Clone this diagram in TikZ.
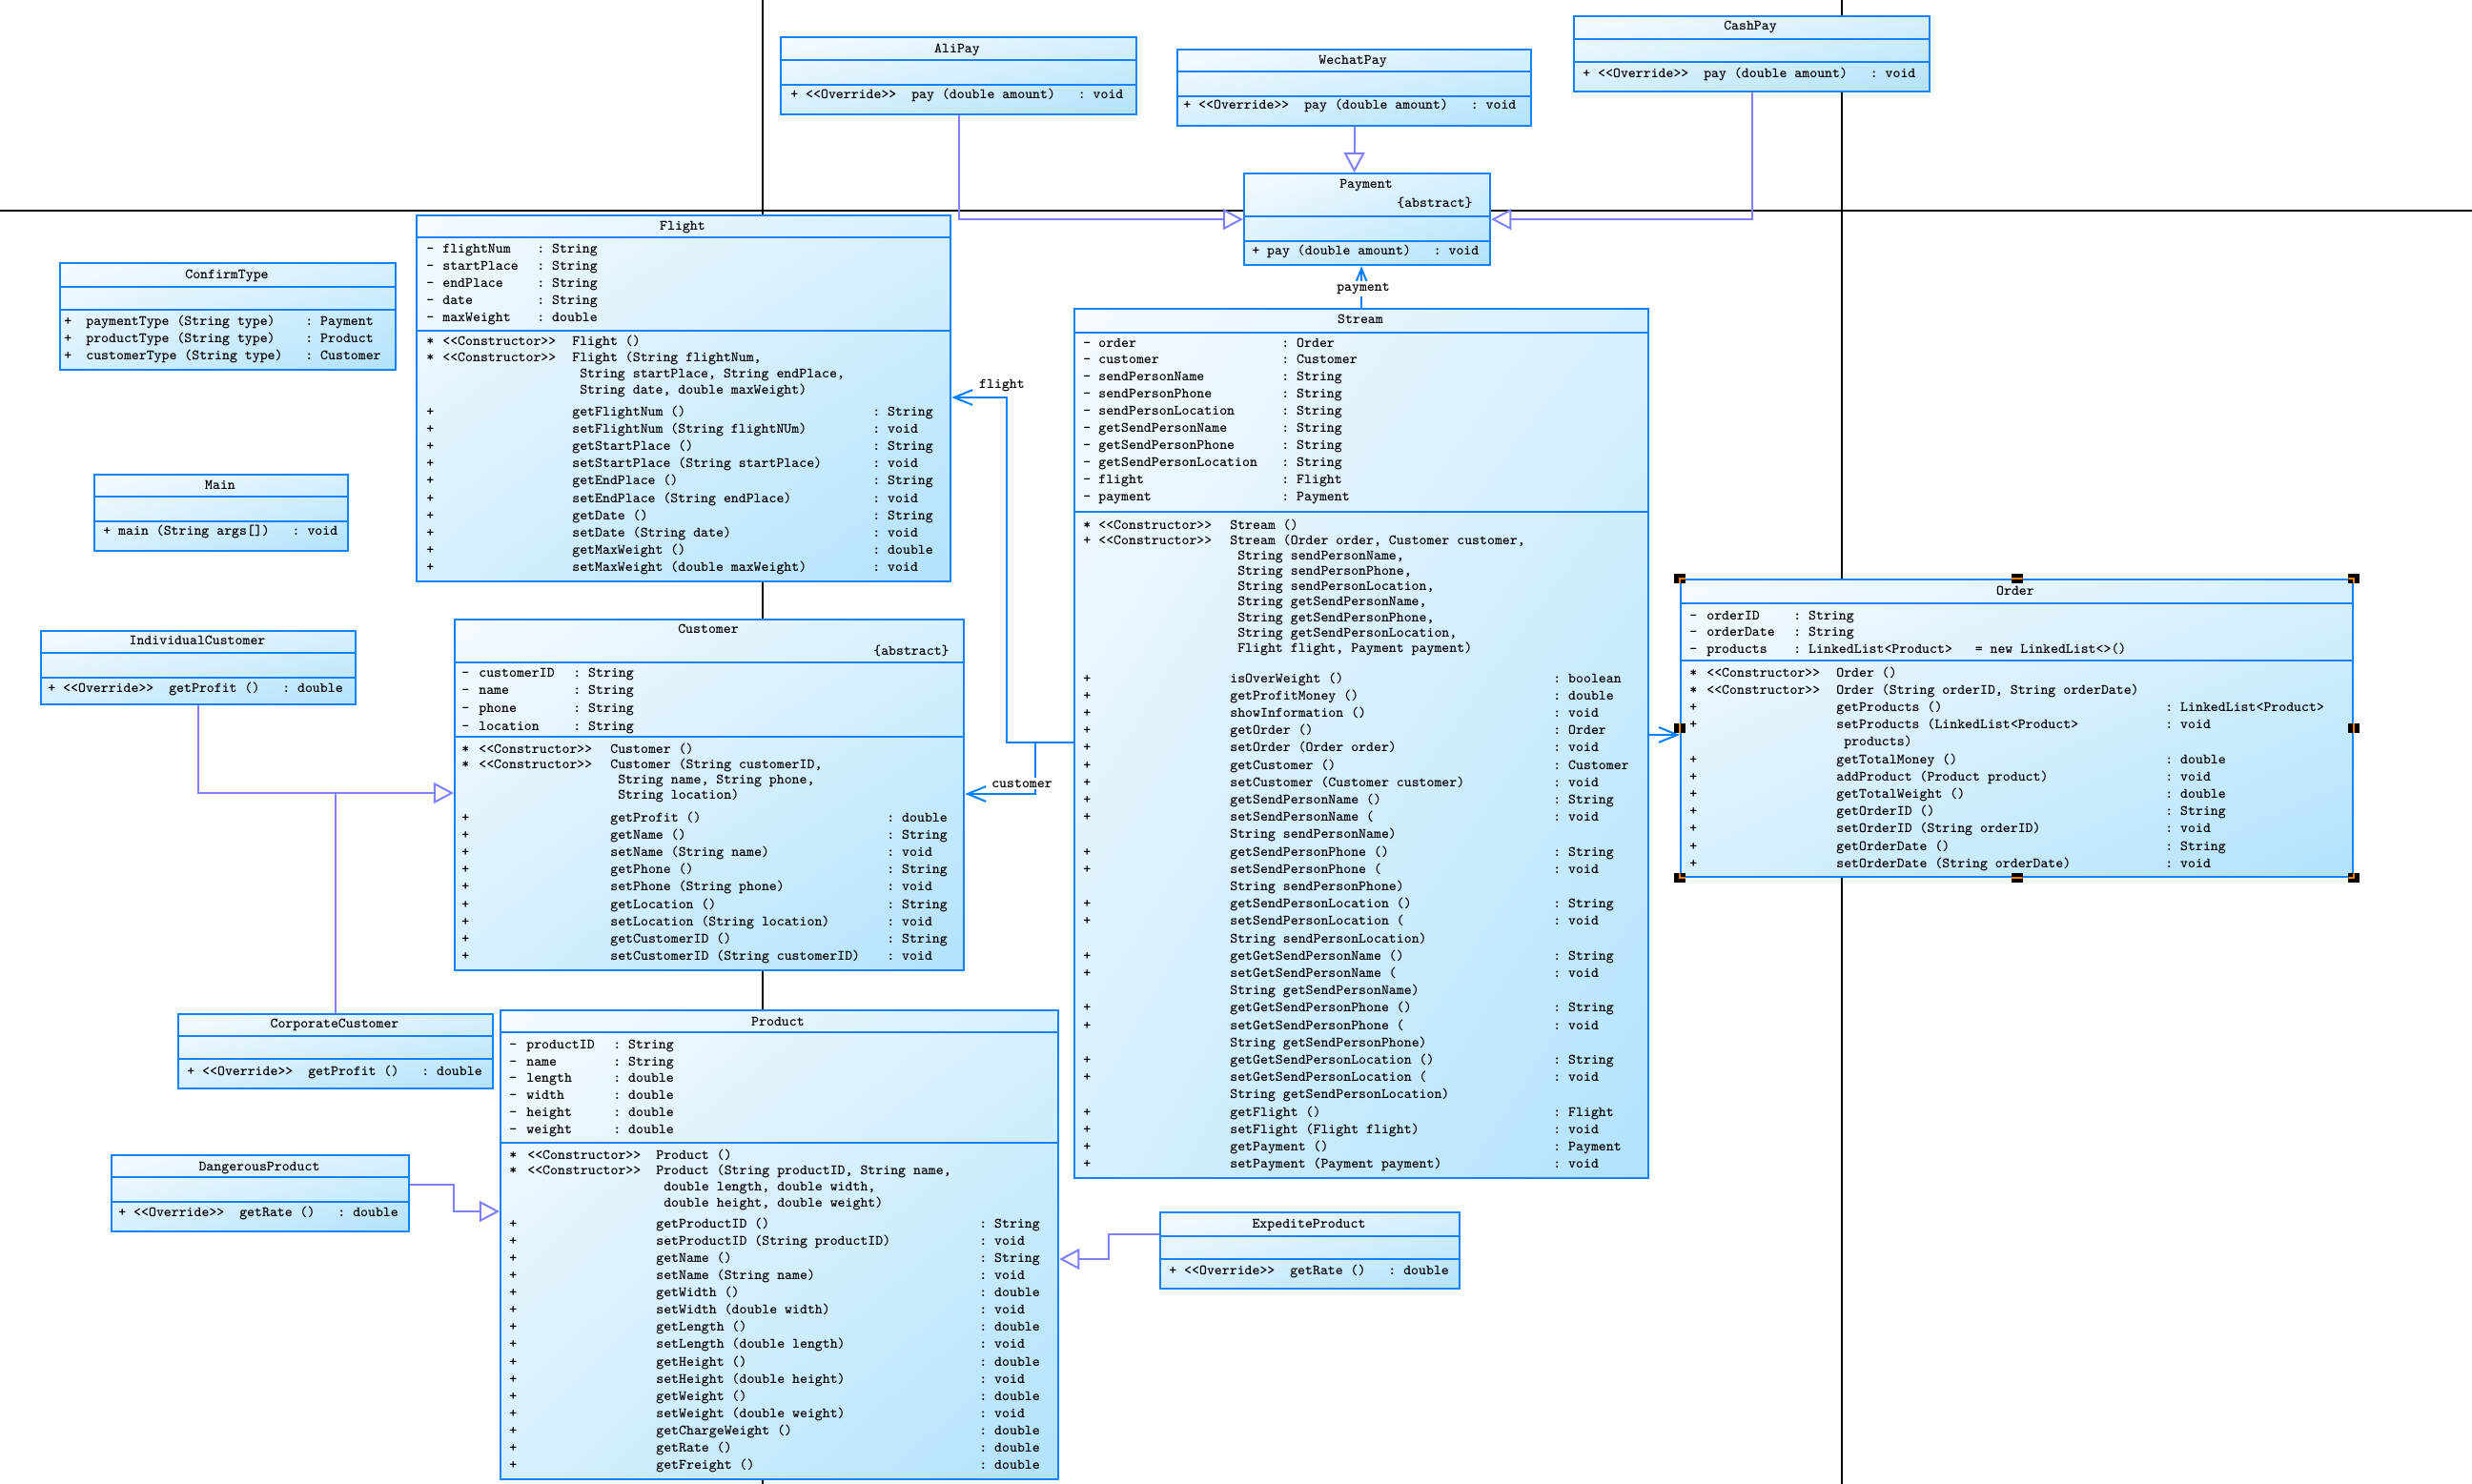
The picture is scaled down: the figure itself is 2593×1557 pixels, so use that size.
\documentclass[tikz,border=0pt]{standalone}
\usetikzlibrary{arrows.meta,shadings}

\definecolor{umlblue}{RGB}{20,130,255}
\definecolor{genline}{RGB}{128,128,255}
\definecolor{assocline}{RGB}{0,128,255}
\definecolor{shadeA}{RGB}{246,251,255}
\definecolor{shadeB}{RGB}{214,240,253}
\definecolor{shadeC}{RGB}{178,226,252}
\definecolor{handleor}{RGB}{255,128,0}

\newcommand\umlfont[1]{\fontsize{8.6pt}{#1}\selectfont\ttfamily\bfseries\frenchspacing\fontdimen3\font=0pt\fontdimen4\font=0pt\relax}
\newcommand\tstrut{\rule{0pt}{7.2pt}}
\newcommand\stt[1]{\mbox{<}\mbox{<}#1\mbox{>}\mbox{>}}
\newcommand\ind{\hspace*{4.515pt}}

\begin{document}
\begin{tikzpicture}[x=0.02cm,y=-0.02cm,
  umlbox/.style 2 args={draw=umlblue,line width=0.045cm,upper left=shadeA,upper right=shadeB,lower left=shadeB,lower right=shadeC,anchor=north west,inner sep=0pt,minimum width=#1*0.02cm,minimum height=#2*0.02cm},
  sepline/.style={draw=umlblue,line width=0.045cm},
  umltxt/.style={anchor=north west,inner sep=0pt,align=left,font=\umlfont{10.24pt}},
  lsk/.style={font=\umlfont{#1}},
  umlttl/.style={anchor=base,inner sep=0pt,font=\umlfont{10.24pt}},
  umllbl/.style={fill=white,inner sep=1pt,font=\umlfont{10.24pt}},
  gen/.style={draw=genline,line width=0.04cm,-{Triangle[open,length=12pt,width=12.5pt]}},
  genl/.style={draw=genline,line width=0.04cm},
  assoc/.style={draw=assocline,line width=0.04cm,-{Straight Barb[length=11pt,width=9pt]}},
  pgline/.style={draw=black,line width=0.045cm}]
\useasboundingbox (0,0) rectangle (2593,1557);

% page breaks
\draw[pgline] (0,221) -- (2593,221);
\draw[pgline] (800,0) -- (800,1557);
\draw[pgline] (1932,0) -- (1932,1557);

% AliPay
\node[umlbox={373}{81}] (c_alipay) at (818,38) {};
\foreach \y in {63,89} \draw[sepline] (c_alipay.west |- 0,\y) -- (c_alipay.east |- 0,\y);
\node[umlttl] (alipay_t) at (1004,56) {AliPay};
\node[umltxt] (alipay_o) at (829,91) {\tstrut+~\stt{Override}~~pay (double amount)~~~:~void};

% WechatPay
\node[umlbox={371}{80}] (c_wechat) at (1234,51) {};
\foreach \y in {75,101} \draw[sepline] (c_wechat.west |- 0,\y) -- (c_wechat.east |- 0,\y);
\node[umlttl] (wechat_t) at (1419,68) {WechatPay};
\node[umltxt] (wechat_o) at (1241,102) {\tstrut+~\stt{Override}~~pay (double amount)~~~:~void};

% CashPay
\node[umlbox={373}{79}] (c_cashpay) at (1650,16) {};
\foreach \y in {41,65} \draw[sepline] (c_cashpay.west |- 0,\y) -- (c_cashpay.east |- 0,\y);
\node[umlttl] (cashpay_t) at (1836,32) {CashPay};
\node[umltxt] (cashpay_o) at (1660,69) {\tstrut+~\stt{Override}~~pay (double amount)~~~:~void};

% Payment
\node[umlbox={258}{96}] (c_payment) at (1304,181) {};
\foreach \y in {227,253} \draw[sepline] (c_payment.west |- 0,\y) -- (c_payment.east |- 0,\y);
\node[umlttl] (payment_t) at (1433,198) {Payment};
\node[umlttl,anchor=base east] (payment_abs) at (1545,218) {\{abstract\}};
\node[umltxt] (payment_o) at (1313,255) {\tstrut+~pay (double amount)~~~:~void};

% ConfirmType
\node[umlbox={352}{112}] (c_confirm) at (62,275) {};
\foreach \y in {301,325} \draw[sepline] (c_confirm.west |- 0,\y) -- (c_confirm.east |- 0,\y);
\node[umlttl] (confirm_t) at (238,293) {ConfirmType};
\node[umltxt] (confirm_ov) at (67,329) {\tstrut+\\+\\+};
\node[umltxt] (confirm_on) at (90,329) {\tstrut paymentType (String type)\\productType (String type)\\customerType (String type)};
\node[umltxt] (confirm_ot) at (320,329) {\tstrut:~Payment\\:~Product\\:~Customer};

% Main
\node[umlbox={266}{80}] (c_main) at (98,497) {};
\foreach \y in {521,547} \draw[sepline] (c_main.west |- 0,\y) -- (c_main.east |- 0,\y);
\node[umlttl] (main_t) at (231,514) {Main};
\node[umltxt] (main_o) at (108,548) {\tstrut+~main (String args[])~~~:~void};

% Flight
\node[umlbox={560}{384}] (c_flight) at (436,225) {};
\foreach \y in {249,347} \draw[sepline] (c_flight.west |- 0,\y) -- (c_flight.east |- 0,\y);
\node[umlttl] (flight_t) at (716,242) {Flight};
\node[umltxt] (flight_av) at (447,253) {\tstrut-\\-\\-\\-\\-};
\node[umltxt] (flight_an) at (464,253) {\tstrut flightNum\\startPlace\\endPlace\\date\\maxWeight};
\node[umltxt] (flight_at) at (563,253) {\tstrut:~String\\:~String\\:~String\\:~String\\:~double};
\node[umltxt,lsk=9.67pt] (flight_cv) at (447,350) {\tstrut*\\*};
\node[umltxt,lsk=9.67pt] (flight_cs) at (464,350) {\tstrut\stt{Constructor}\\\stt{Constructor}};
\node[umltxt,lsk=9.67pt] (flight_cn) at (600,350) {\tstrut Flight ()\\Flight (String flightNum,\\\ind String startPlace, String endPlace,\\\ind String date, double maxWeight)};
\node[umltxt,lsk=10.36pt] (flight_mv) at (447,423) {\tstrut+\\+\\+\\+\\+\\+\\+\\+\\+\\+};
\node[umltxt,lsk=10.36pt] (flight_mn) at (600,423) {\tstrut getFlightNum ()\\setFlightNum (String flightNUm)\\getStartPlace ()\\setStartPlace (String startPlace)\\getEndPlace ()\\setEndPlace (String endPlace)\\getDate ()\\setDate (String date)\\getMaxWeight ()\\setMaxWeight (double maxWeight)};
\node[umltxt,lsk=10.36pt] (flight_mt) at (915,423) {\tstrut:~String\\:~void\\:~String\\:~void\\:~String\\:~void\\:~String\\:~void\\:~double\\:~void};

% Customer
\node[umlbox={534}{368}] (c_customer) at (476,649) {};
\foreach \y in {695,773} \draw[sepline] (c_customer.west |- 0,\y) -- (c_customer.east |- 0,\y);
\node[umlttl] (customer_t) at (743,664) {Customer};
\node[umlttl,anchor=base east] (customer_abs) at (996,687) {\{abstract\}};
\node[umltxt,lsk=10.64pt] (customer_av) at (484,697) {\tstrut-\\-\\-\\-};
\node[umltxt,lsk=10.64pt] (customer_an) at (502,697) {\tstrut customerID\\name\\phone\\location};
\node[umltxt,lsk=10.64pt] (customer_at) at (601,697) {\tstrut:~String\\:~String\\:~String\\:~String};
\node[umltxt,lsk=9.28pt] (customer_cv) at (484,777) {\tstrut*\\*};
\node[umltxt,lsk=9.28pt] (customer_cs) at (502,777) {\tstrut\stt{Constructor}\\\stt{Constructor}};
\node[umltxt,lsk=9.28pt] (customer_cn) at (640,777) {\tstrut Customer ()\\Customer (String customerID,\\\ind String name, String phone,\\\ind String location)};
\node[umltxt,lsk=10.38pt] (customer_mv) at (484,849) {\tstrut+\\+\\+\\+\\+\\+\\+\\+\\+};
\node[umltxt,lsk=10.38pt] (customer_mn) at (640,849) {\tstrut getProfit ()\\getName ()\\setName (String name)\\getPhone ()\\setPhone (String phone)\\getLocation ()\\setLocation (String location)\\getCustomerID ()\\setCustomerID (String customerID)};
\node[umltxt,lsk=10.38pt] (customer_mt) at (930,849) {\tstrut:~double\\:~String\\:~void\\:~String\\:~void\\:~String\\:~void\\:~String\\:~void};

% IndividualCustomer
\node[umlbox={330}{77}] (c_indiv) at (42,661) {};
\foreach \y in {685,711} \draw[sepline] (c_indiv.west |- 0,\y) -- (c_indiv.east |- 0,\y);
\node[umlttl] (indiv_t) at (207,676) {IndividualCustomer};
\node[umltxt] (indiv_o) at (50,713) {\tstrut+~\stt{Override}~~getProfit ()~~~:~double};

% CorporateCustomer
\node[umlbox={330}{78}] (c_corp) at (186,1063) {};
\foreach \y in {1087,1111} \draw[sepline] (c_corp.west |- 0,\y) -- (c_corp.east |- 0,\y);
\node[umlttl] (corp_t) at (351,1078) {CorporateCustomer};
\node[umltxt] (corp_o) at (196,1115) {\tstrut+~\stt{Override}~~getProfit ()~~~:~double};

% Product
\node[umlbox={585}{492}] (c_product) at (524,1059) {};
\foreach \y in {1083,1199} \draw[sepline] (c_product.west |- 0,\y) -- (c_product.east |- 0,\y);
\node[umlttl] (product_t) at (816,1076) {Product};
\node[umltxt] (product_av) at (534,1087) {\tstrut-\\-\\-\\-\\-\\-};
\node[umltxt] (product_an) at (552,1087) {\tstrut productID\\name\\length\\width\\height\\weight};
\node[umltxt] (product_at) at (643,1087) {\tstrut:~String\\:~String\\:~double\\:~double\\:~double\\:~double};
\node[umltxt,lsk=9.5pt] (product_cv) at (534,1203) {\tstrut*\\*};
\node[umltxt,lsk=9.5pt] (product_cs) at (553,1203) {\tstrut\stt{Constructor}\\\stt{Constructor}};
\node[umltxt,lsk=9.5pt] (product_cn) at (688,1203) {\tstrut Product ()\\Product (String productID, String name,\\\ind double length, double width,\\\ind double height, double weight)};
\node[umltxt,lsk=10.32pt] (product_mv) at (534,1275) {\tstrut+\\+\\+\\+\\+\\+\\+\\+\\+\\+\\+\\+\\+\\+\\+};
\node[umltxt,lsk=10.32pt] (product_mn) at (688,1275) {\tstrut getProductID ()\\setProductID (String productID)\\getName ()\\setName (String name)\\getWidth ()\\setWidth (double width)\\getLength ()\\setLength (double length)\\getHeight ()\\setHeight (double height)\\getWeight ()\\setWeight (double weight)\\getChargeWeight ()\\getRate ()\\getFreight ()};
\node[umltxt,lsk=10.32pt] (product_mt) at (1027,1275) {\tstrut:~String\\:~void\\:~String\\:~void\\:~double\\:~void\\:~double\\:~void\\:~double\\:~void\\:~double\\:~void\\:~double\\:~double\\:~double};

% DangerousProduct
\node[umlbox={312}{80}] (c_danger) at (116,1211) {};
\foreach \y in {1235,1261} \draw[sepline] (c_danger.west |- 0,\y) -- (c_danger.east |- 0,\y);
\node[umlttl] (danger_t) at (272,1228) {DangerousProduct};
\node[umltxt] (danger_o) at (124,1263) {\tstrut+~\stt{Override}~~getRate ()~~~:~double};

% ExpediteProduct
\node[umlbox={314}{80}] (c_expedite) at (1216,1271) {};
\foreach \y in {1297,1321} \draw[sepline] (c_expedite.west |- 0,\y) -- (c_expedite.east |- 0,\y);
\node[umlttl] (expedite_t) at (1373,1288) {ExpediteProduct};
\node[umltxt] (expedite_o) at (1226,1324) {\tstrut+~\stt{Override}~~getRate ()~~~:~double};

% Stream
\node[umlbox={602}{912}] (c_stream) at (1126,323) {};
\foreach \y in {349,537} \draw[sepline] (c_stream.west |- 0,\y) -- (c_stream.east |- 0,\y);
\node[umlttl] (stream_t) at (1427,340) {Stream};
\node[umltxt] (stream_av) at (1136,351) {\tstrut-\\-\\-\\-\\-\\-\\-\\-\\-\\-};
\node[umltxt] (stream_an) at (1152,351) {\tstrut order\\customer\\sendPersonName\\sendPersonPhone\\sendPersonLocation\\getSendPersonName\\getSendPersonPhone\\getSendPersonLocation\\flight\\payment};
\node[umltxt] (stream_at) at (1344,351) {\tstrut:~Order\\:~Customer\\:~String\\:~String\\:~String\\:~String\\:~String\\:~String\\:~Flight\\:~Payment};
\node[umltxt,lsk=9.22pt] (stream_cv) at (1136,542) {\tstrut*\\+};
\node[umltxt,lsk=9.22pt] (stream_cs) at (1152,542) {\tstrut\stt{Constructor}\\\stt{Constructor}};
\node[umltxt,lsk=9.22pt] (stream_cn) at (1290,542) {\tstrut Stream ()\\Stream (Order order, Customer customer,\\\ind String sendPersonName,\\\ind String sendPersonPhone,\\\ind String sendPersonLocation,\\\ind String getSendPersonName,\\\ind String getSendPersonPhone,\\\ind String getSendPersonLocation,\\\ind Flight flight, Payment payment)};
\node[umltxt,lsk=10.36pt] (stream_mv) at (1136,703) {\tstrut+\\+\\+\\+\\+\\+\\+\\+\\+\\\mbox{}\\+\\+\\\mbox{}\\+\\+\\\mbox{}\\+\\+\\\mbox{}\\+\\+\\\mbox{}\\+\\+\\\mbox{}\\+\\+\\+\\+};
\node[umltxt,lsk=10.36pt] (stream_mn) at (1290,703) {\tstrut isOverWeight ()\\getProfitMoney ()\\showInformation ()\\getOrder ()\\setOrder (Order order)\\getCustomer ()\\setCustomer (Customer customer)\\getSendPersonName ()\\setSendPersonName (\\String sendPersonName)\\getSendPersonPhone ()\\setSendPersonPhone (\\String sendPersonPhone)\\getSendPersonLocation ()\\setSendPersonLocation (\\String sendPersonLocation)\\getGetSendPersonName ()\\setGetSendPersonName (\\String getSendPersonName)\\getGetSendPersonPhone ()\\setGetSendPersonPhone (\\String getSendPersonPhone)\\getGetSendPersonLocation ()\\setGetSendPersonLocation (\\String getSendPersonLocation)\\getFlight ()\\setFlight (Flight flight)\\getPayment ()\\setPayment (Payment payment)};
\node[umltxt,lsk=10.36pt] (stream_mt) at (1629,703) {\tstrut:~boolean\\:~double\\:~void\\:~Order\\:~void\\:~Customer\\:~void\\:~String\\:~void\\\mbox{}\\:~String\\:~void\\\mbox{}\\:~String\\:~void\\\mbox{}\\:~String\\:~void\\\mbox{}\\:~String\\:~void\\\mbox{}\\:~String\\:~void\\\mbox{}\\:~Flight\\:~void\\:~Payment\\:~void};

% Order
\node[umlbox={705}{312}] (c_order) at (1762,607) {};
\foreach \y in {633,693} \draw[sepline] (c_order.west |- 0,\y) -- (c_order.east |- 0,\y);
\node[umlttl] (order_t) at (2114,624) {Order};
\node[umltxt] (order_av) at (1772,637) {\tstrut-\\-\\-};
\node[umltxt] (order_an) at (1790,637) {\tstrut orderID\\orderDate\\products};
\node[umltxt] (order_at) at (1881,637) {\tstrut:~String\\:~String\\:~LinkedList<Product>~~~=~new~LinkedList<>()};
\node[umltxt,lsk=10.36pt] (order_ov) at (1772,697) {\tstrut*\\*\\+\\+\\\mbox{}\\+\\+\\+\\+\\+\\+\\+};
\node[umltxt,lsk=10.36pt] (order_os) at (1790,697) {\tstrut\stt{Constructor}\\\stt{Constructor}};
\node[umltxt,lsk=10.36pt] (order_on) at (1926,697) {\tstrut Order ()\\Order (String orderID, String orderDate)\\getProducts ()\\setProducts (LinkedList<Product>\\\ind products)\\getTotalMoney ()\\addProduct (Product product)\\getTotalWeight ()\\getOrderID ()\\setOrderID (String orderID)\\getOrderDate ()\\setOrderDate (String orderDate)};
\node[umltxt,lsk=10.36pt] (order_ot) at (2271,697) {\tstrut\mbox{}\\\mbox{}\\:~LinkedList<Product>\\:~void\\\mbox{}\\:~double\\:~void\\:~double\\:~String\\:~void\\:~String\\:~void};

% generalizations
\draw[gen] (c_alipay.south) |- (c_payment.west);
\draw[gen] (c_wechat.south) -- (c_wechat.south |- c_payment.north);
\draw[gen] (c_cashpay.south) |- (c_payment.east);
\draw[gen] (c_indiv.south) |- (c_customer.west |- 0,832);
\draw[genl] (c_corp.north) -- (c_corp.north |- 0,832);
\draw[gen] (c_danger.east |- 0,1243) -| (476,1271) -- (c_product.west |- 0,1271);
\draw[gen] (c_expedite.west |- 0,1295) -| (1163,1321) -- (c_product.east |- 0,1321);

% associations
\draw[assoc] (c_stream.west |- 0,779) -- (1056,779) |- (c_flight.east |- 0,417);
\draw[assoc] (c_stream.west |- 0,779) -| (1086,833) -- (c_customer.east |- 0,833);
\draw[assoc] (c_stream.north) -- (c_stream.north |- c_payment.south);
\draw[assoc] (c_stream.east |- 0,771) -- (c_order.west |- 0,771);
\node[umllbl] (l_flight) at (1051,405) {flight};
\node[umllbl] (l_customer) at (1072,822) {customer};
\node[umllbl] (l_payment) at (1430,303) {payment};

% selection handles
\foreach \a in {north west,north,north east,east,south east,south,south west,west}
  \fill[black] ([shift={(-6,-5)}]c_order.\a) rectangle ([shift={(6,5)}]c_order.\a);
\begin{scope}
\clip \foreach \a in {north west,north,north east,east,south east,south,south west,west} {([shift={(-6,-5)}]c_order.\a) rectangle ([shift={(6,5)}]c_order.\a)};
\draw[handleor,line width=0.045cm] (c_order.north west) rectangle (c_order.south east);
\end{scope}
\end{tikzpicture}
\end{document}
